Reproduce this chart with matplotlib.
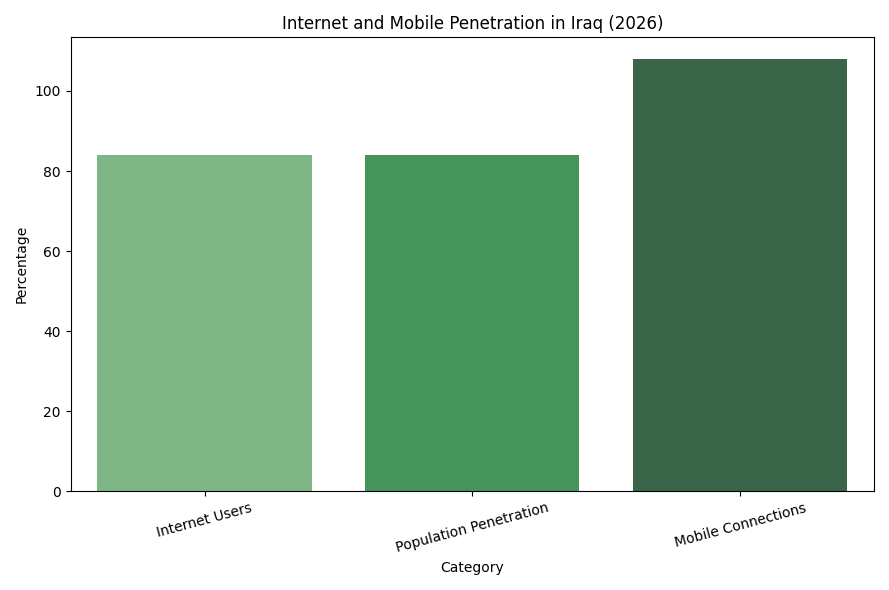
import matplotlib
matplotlib.use("Agg")
import matplotlib.pyplot as plt

categories = ["Internet Users", "Population Penetration", "Mobile Connections"]
values = [84, 84, 108]
colors = ["#7fb685", "#45945a", "#3b6549"]

fig, ax = plt.subplots(figsize=(8.89, 5.9), dpi=100)
ax.bar(categories, values, color=colors, width=0.8)
ax.set_title("Internet and Mobile Penetration in Iraq (2026)")
ax.set_xlabel("Category")
ax.set_ylabel("Percentage")
ax.set_xlim(-0.5, 2.5)
plt.xticks(rotation=15)
plt.tight_layout()
plt.savefig("out.png", dpi=100)
